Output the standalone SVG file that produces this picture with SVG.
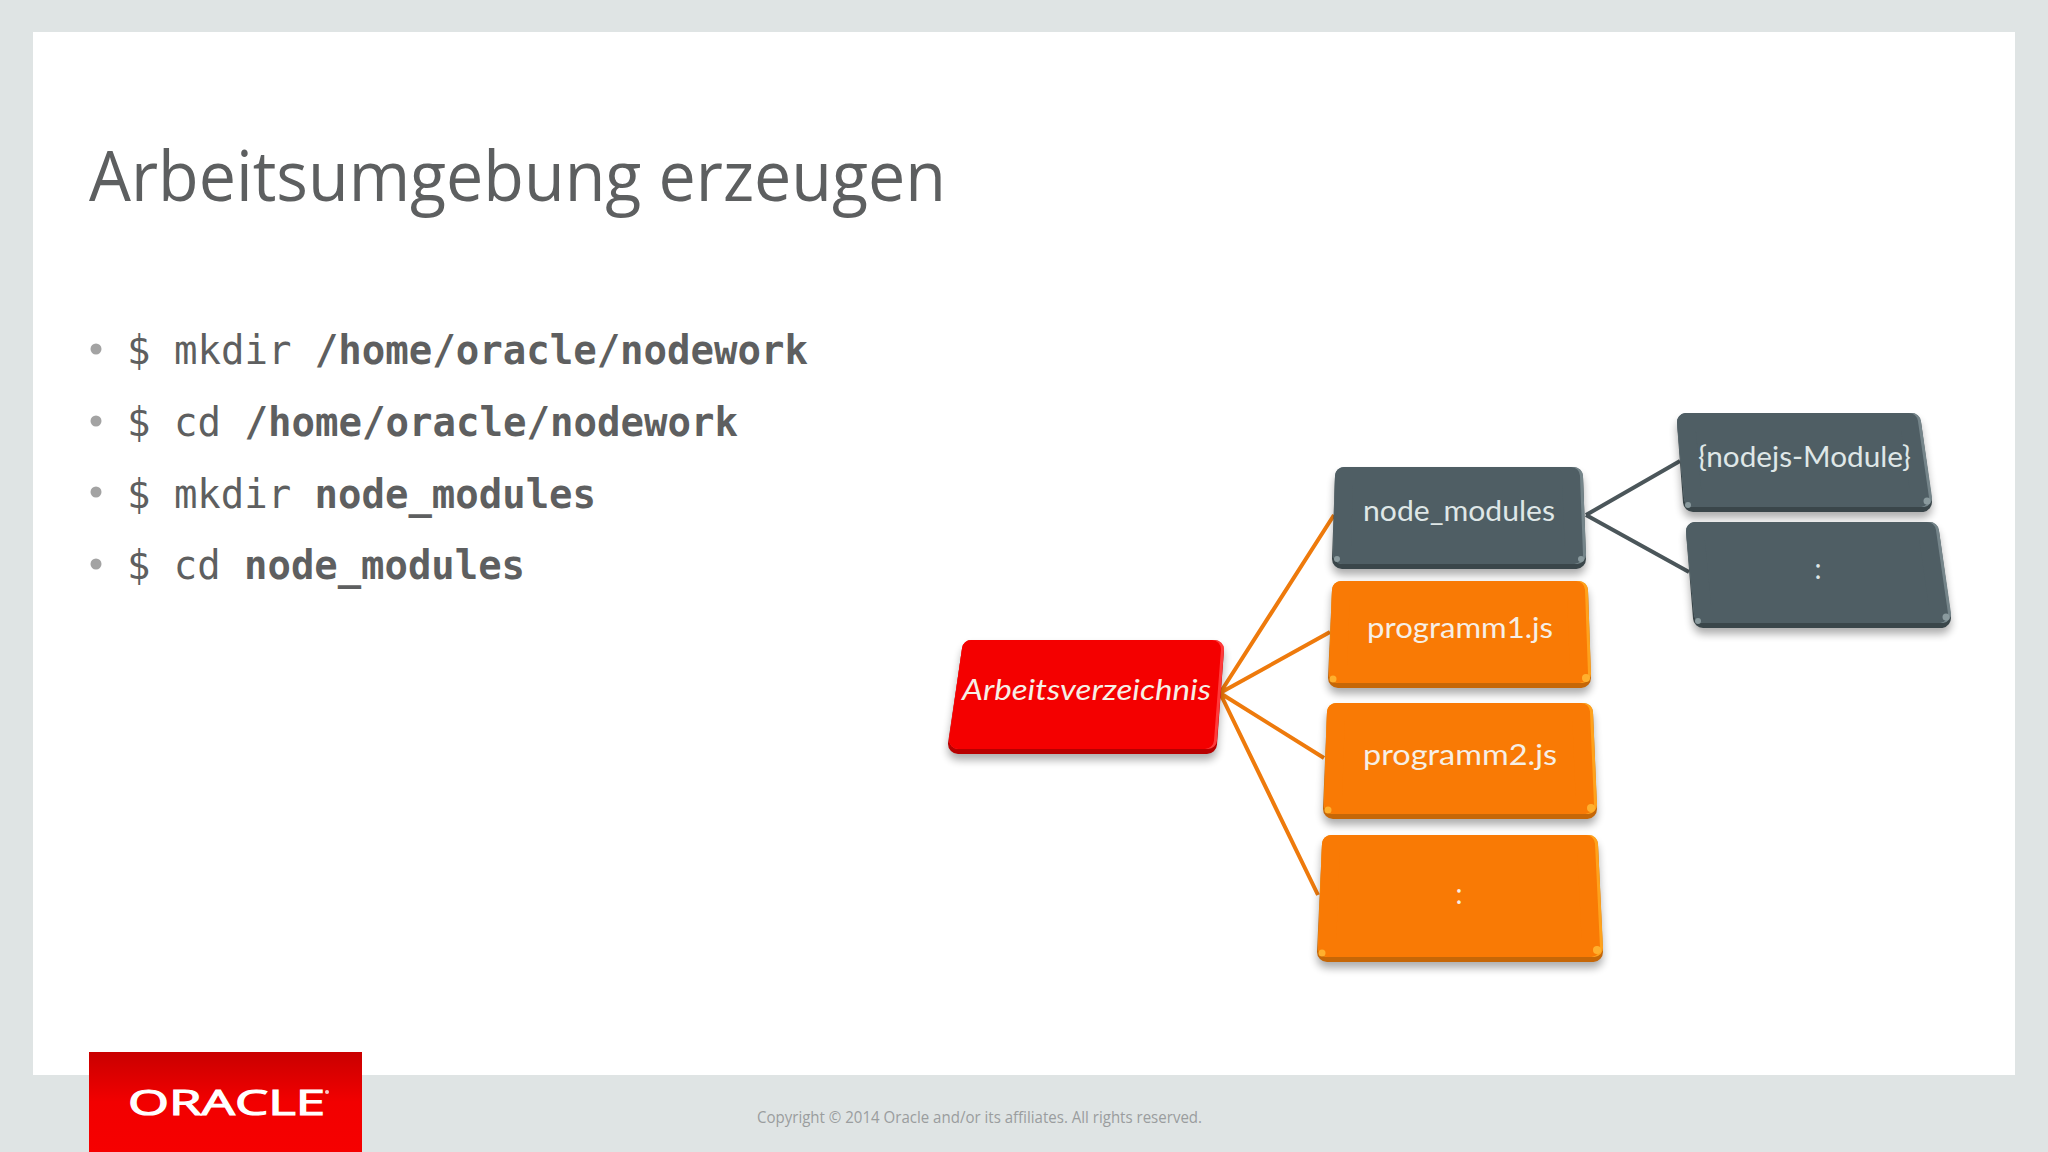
<svg xmlns="http://www.w3.org/2000/svg" width="2048" height="1152" viewBox="0 0 2048 1152">
<style>
.title{font-family:"Open Sans","Noto Sans",sans-serif;font-size:70px;fill:#5d5f60}
.cmd{font-family:"DejaVu Sans Mono",monospace;font-size:40px;fill:#5e5f60}
.cmd .b{font-weight:700}
.bullet{fill:#a3a3a3}
.foot{font-family:"Open Sans","Noto Sans",sans-serif;font-size:15.5px;fill:#9a9d9e}
.lab{font-family:Lato,"Open Sans",sans-serif;font-size:28px;fill:#f6efe6}
.labg{fill:#dfe7e7}
.shadow{fill:#000;opacity:.32;stroke:#000;stroke-linejoin:round;filter:url(#blur)}
.base,.rim,.face{stroke-linejoin:round}
.o .base{fill:#c66707;stroke:#c66707}.o .rim{fill:#ffa21c;stroke:#ffa21c}.o .face{fill:#f97a05;stroke:#f97a05}.o .spot{fill:#ffb02e}
.g .base{fill:#3a464a;stroke:#3a464a}.g .rim{fill:#75858a;stroke:#75858a}.g .face{fill:#4f5e64;stroke:#4f5e64}.g .spot{fill:#8a9a9e}
.r .base{fill:#b80000;stroke:#b80000}.r .rim{fill:#ff3a3a;stroke:#ff3a3a}.r .face{fill:#f40000;stroke:#f40000}.r .spot{fill:#ff4a4a}
.co{stroke:#ee7a0c;stroke-width:4;fill:none}
.cg{stroke:#4b565a;stroke-width:4;fill:none}
</style>
<defs>
<filter id="blur" x="-10%" y="-20%" width="120%" height="140%"><feGaussianBlur stdDeviation="4"/></filter>
<linearGradient id="logo" x1="0" y1="0" x2="0" y2="1"><stop offset="0" stop-color="#c90000"/><stop offset=".5" stop-color="#f20000"/><stop offset="1" stop-color="#f60000"/></linearGradient>
</defs>
<rect width="2048" height="1152" fill="#dfe4e4"/>
<rect x="33" y="32" width="1982" height="1043" fill="#fff"/>
<text class="title" x="89" y="201" textLength="857" lengthAdjust="spacingAndGlyphs">Arbeitsumgebung erzeugen</text>
<g id="bullets">
<circle class="bullet" cx="96" cy="349" r="5.5"/><circle class="bullet" cx="96" cy="421" r="5.5"/><circle class="bullet" cx="96" cy="492" r="5.5"/><circle class="bullet" cx="96" cy="564" r="5.5"/>
<text class="cmd" x="127" y="364" textLength="681" lengthAdjust="spacingAndGlyphs">$ mkdir <tspan class="b">/home/oracle/nodework</tspan></text>
<text class="cmd" x="127" y="436" textLength="611" lengthAdjust="spacingAndGlyphs">$ cd <tspan class="b">/home/oracle/nodework</tspan></text>
<text class="cmd" x="127" y="508" textLength="469" lengthAdjust="spacingAndGlyphs">$ mkdir <tspan class="b">node_modules</tspan></text>
<text class="cmd" x="127" y="579" textLength="398" lengthAdjust="spacingAndGlyphs">$ cd <tspan class="b">node_modules</tspan></text>
</g>
<g id="connectors">
<path class="co" d="M1220 693L1334 515M1220 693L1330 632M1220 693L1324 758M1220 693L1318 895"/>
<path class="cg" d="M1586 515L1680 461M1586 515L1689 572"/>
</g>
<g id="node-arbeitsverzeichnis" class="r">
<polygon class="shadow" stroke-width="20" points="972,656 1214,656 1207,750 958,750"/>
<polygon class="base" stroke-width="20" points="972,650 1214,650 1207,744 958,744"/>
<polygon class="rim" stroke-width="18" points="971,649 1215,649 1208,740 958,740"/>
<polygon class="face" stroke-width="18" points="971,649 1212,649 1205,740 958,740"/>
<text class="lab" x="962" y="700" textLength="249" lengthAdjust="spacingAndGlyphs" font-style="italic">Arbeitsverzeichnis</text>
</g>
<g id="node-node-modules" class="g">
<polygon class="shadow" stroke-width="20" points="1345,483 1573,483 1576,565 1342,565"/>
<polygon class="base" stroke-width="20" points="1345,477 1573,477 1576,559 1342,559"/>
<polygon class="rim" stroke-width="18" points="1344,476 1574,476 1577,555 1342,555"/>
<polygon class="face" stroke-width="18" points="1344,476 1571,476 1574,555 1342,555"/>
<circle class="spot" cx="1337" cy="559" r="3"/><circle class="spot" cx="1581" cy="559" r="3"/>
<text class="lab labg" x="1363" y="521" textLength="192" lengthAdjust="spacingAndGlyphs">node_modules</text>
</g>
<g id="node-programm1" class="o">
<polygon class="shadow" stroke-width="20" points="1342,597 1578,597 1581,684 1338,684"/>
<polygon class="base" stroke-width="20" points="1342,591 1578,591 1581,678 1338,678"/>
<polygon class="rim" stroke-width="18" points="1341,590 1579,590 1582,674 1338,674"/>
<polygon class="face" stroke-width="18" points="1341,590 1576,590 1579,674 1338,674"/>
<circle class="spot" cx="1333" cy="679" r="3.5"/><circle class="spot" cx="1586" cy="678" r="4"/>
<text class="lab" x="1367" y="638" textLength="186" lengthAdjust="spacingAndGlyphs">programm1.js</text>
</g>
<g id="node-programm2" class="o">
<polygon class="shadow" stroke-width="20" points="1337,719 1583,719 1587,815 1333,815"/>
<polygon class="base" stroke-width="20" points="1337,713 1583,713 1587,809 1333,809"/>
<polygon class="rim" stroke-width="18" points="1336,712 1584,712 1588,805 1333,805"/>
<polygon class="face" stroke-width="18" points="1336,712 1581,712 1585,805 1333,805"/>
<circle class="spot" cx="1328" cy="810" r="3.5"/><circle class="spot" cx="1591" cy="808" r="4"/>
<text class="lab" x="1363" y="765" textLength="194" lengthAdjust="spacingAndGlyphs">programm2.js</text>
</g>
<g id="node-more-orange" class="o">
<polygon class="shadow" stroke-width="20" points="1332,851 1588,851 1593,958 1327,958"/>
<polygon class="base" stroke-width="20" points="1332,845 1588,845 1593,952 1327,952"/>
<polygon class="rim" stroke-width="18" points="1331,844 1589,844 1594,948 1327,948"/>
<polygon class="face" stroke-width="18" points="1331,844 1586,844 1591,948 1327,948"/>
<circle class="spot" cx="1322" cy="953" r="3.5"/><circle class="spot" cx="1597" cy="950" r="4"/>
<text class="lab" x="1459" y="904" text-anchor="middle">:</text>
</g>
<g id="node-nodejs-module" class="g">
<polygon class="shadow" stroke-width="20" points="1687,429 1911,429 1922,508 1693,508"/>
<polygon class="base" stroke-width="20" points="1687,423 1911,423 1922,502 1693,502"/>
<polygon class="rim" stroke-width="18" points="1686,422 1912,422 1923,498 1693,498"/>
<polygon class="face" stroke-width="18" points="1686,422 1909,422 1920,498 1693,498"/>
<circle class="spot" cx="1688" cy="505" r="3"/><circle class="spot" cx="1927" cy="501" r="3.5"/>
<text class="lab labg" x="1698" y="467" textLength="213" lengthAdjust="spacingAndGlyphs">{nodejs-Module}</text>
</g>
<g id="node-more-gray" class="g">
<polygon class="shadow" stroke-width="20" points="1696,538 1929,538 1941,624 1703,624"/>
<polygon class="base" stroke-width="20" points="1696,532 1929,532 1941,618 1703,618"/>
<polygon class="rim" stroke-width="18" points="1695,531 1930,531 1942,614 1703,614"/>
<polygon class="face" stroke-width="18" points="1695,531 1927,531 1939,614 1703,614"/>
<circle class="spot" cx="1698" cy="621" r="3"/><circle class="spot" cx="1946" cy="617" r="3.5"/>
<text class="lab labg" x="1818" y="579" text-anchor="middle">:</text>
</g>
<g id="logo-block">
<rect x="89" y="1052" width="273" height="100" fill="url(#logo)"/>
<text x="128" y="1115" font-family="Open Sans,Noto Sans,sans-serif" font-size="35" fill="#fff" stroke="#fff" stroke-width="1.2" textLength="197" lengthAdjust="spacingAndGlyphs">ORACLE</text>
<circle cx="327" cy="1092" r="2" fill="#f7c8c8"/>
</g>
<text class="foot" x="757" y="1123" textLength="445" lengthAdjust="spacingAndGlyphs">Copyright © 2014 Oracle and/or its affiliates. All rights reserved.</text>
</svg>
